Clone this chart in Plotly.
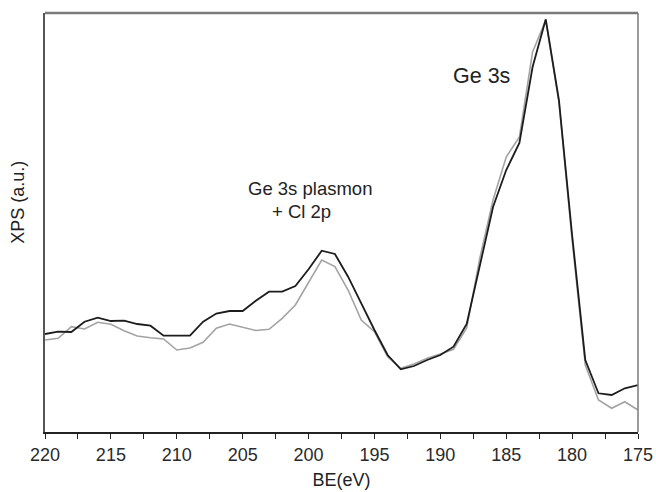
import plotly.graph_objects as go

# Binding energy grid (eV), 1 eV steps from 220 down to 175
be = [220, 219, 218, 217, 216, 215, 214, 213, 212, 211,
      210, 209, 208, 207, 206, 205, 204, 203, 202, 201,
      200, 199, 198, 197, 196, 195, 194, 193, 192, 191,
      190, 189, 188, 187, 186, 185, 184, 183, 182, 181,
      180, 179, 178, 177, 176, 175]

# XPS intensity (a.u.), black spectrum
xps_black = [98.0, 100.3, 100.0, 110.3, 114.3, 111.0, 111.3, 108.0, 106.3, 96.3,
             96.3, 96.3, 110.3, 118.5, 121.0, 121.0, 131.3, 140.3, 140.3, 146.0,
             162.7, 181.3, 178.0, 155.3, 128.7, 102.0, 77.0, 62.7, 66.0, 72.0,
             77.0, 85.3, 108.0, 166.0, 225.0, 262.0, 289.0, 365.0, 412.7, 332.0,
             197.0, 72.0, 38.7, 37.0, 43.7, 47.0]

# XPS intensity (a.u.), grey spectrum
xps_grey = [92.0, 93.7, 105.3, 103.0, 109.7, 107.7, 101.3, 96.0, 94.3, 93.0,
            82.0, 84.0, 89.7, 103.7, 108.0, 105.0, 101.5, 102.7, 113.7, 127.0,
            149.0, 172.0, 165.5, 142.0, 112.0, 100.3, 75.3, 63.7, 68.0, 73.7,
            78.0, 82.7, 104.0, 174.0, 232.0, 275.0, 295.0, 380.0, 412.0, 330.0,
            192.0, 67.0, 32.0, 23.7, 30.3, 22.0]

tick_vals = [220, 217.5, 215, 212.5, 210, 207.5, 205, 202.5, 200, 197.5,
             195, 192.5, 190, 187.5, 185, 182.5, 180, 177.5, 175]
tick_text = ["220", "", "215", "", "210", "", "205", "", "200", "",
             "195", "", "190", "", "185", "", "180", "", "175"]

FONT = "Liberation Sans, Arial, sans-serif"

fig = go.Figure()
fig.add_trace(go.Scatter(x=be, y=xps_grey, mode="lines",
                         line=dict(color="#a3a3a3", width=1.6),
                         showlegend=False, hoverinfo="x+y"))
fig.add_trace(go.Scatter(x=be, y=xps_black, mode="lines",
                         line=dict(color="#1c1c1c", width=1.8),
                         showlegend=False, hoverinfo="x+y"))

fig.update_layout(
    width=656, height=492,
    margin=dict(l=45, r=18, t=13, b=60),
    paper_bgcolor="white", plot_bgcolor="white",
    font=dict(family=FONT, size=18, color="#222222"),
    xaxis=dict(
        range=[220, 175], autorange=False, automargin=False,
        tickmode="array", tickvals=tick_vals, ticktext=tick_text,
        ticks="outside", ticklen=5, tickwidth=1.3, tickcolor="#222222",
        showline=True, linecolor="#222222", linewidth=2,
        showgrid=False, zeroline=False,
        tickfont=dict(size=18, color="#2a2a2a"),
        title=dict(text="BE(eV)", font=dict(size=18, color="#222222"), standoff=10),
    ),
    yaxis=dict(
        range=[0, 419], autorange=False, automargin=False,
        showticklabels=False, ticks="",
        showline=True, linecolor="#555555", linewidth=1.5,
        showgrid=False, zeroline=False,
    ),
    shapes=[
        # top and right frame edges
        dict(type="line", xref="paper", yref="paper", x0=0, x1=1, y0=1, y1=1,
             line=dict(color="#7a7a7a", width=2.5)),
        dict(type="line", xref="paper", yref="paper", x0=1, x1=1, y0=0, y1=1,
             line=dict(color="#7a7a7a", width=1.5)),
    ],
    annotations=[
        dict(text="XPS (a.u.)", xref="paper", yref="paper",
             x=-0.0455, y=0.547, textangle=-90, showarrow=False,
             xanchor="center", yanchor="middle",
             font=dict(size=18, color="#222222")),
        dict(text="Ge 3s", x=186.9, y=356, xref="x", yref="y", showarrow=False,
             xanchor="center", yanchor="middle",
             font=dict(size=21.5, color="#222222")),
        dict(text="Ge 3s plasmon", x=199.9, y=244, xref="x", yref="y", showarrow=False,
             xanchor="center", yanchor="middle",
             font=dict(size=18.5, color="#222222")),
        dict(text="+ Cl 2p", x=200.5, y=221, xref="x", yref="y", showarrow=False,
             xanchor="center", yanchor="middle",
             font=dict(size=18.5, color="#222222")),
    ],
)

fig.write_html("out.html")
